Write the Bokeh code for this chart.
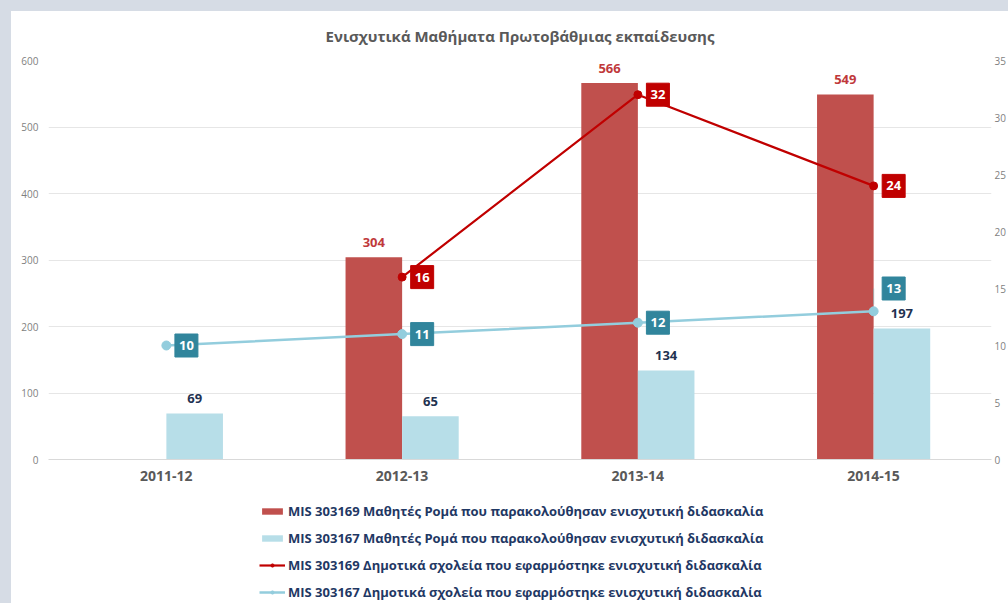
from bokeh.plotting import figure
from bokeh.models import (FactorRange, Range1d, LinearAxis, ColumnDataSource,
                          LabelSet, Legend, LegendItem, FixedTicker, Spacer)
from bokeh.layouts import column, row
from bokeh.transform import dodge
from bokeh.core.properties import value
from bokeh.embed import file_html
from bokeh.resources import INLINE

# ---------------- data ----------------
title_text = "Ενισχυτικά Μαθήματα Πρωτοβάθμιας εκπαίδευσης"
years = ["2011-12", "2012-13", "2013-14", "2014-15"]
students_303169 = [None, 304, 566, 549]
students_303167 = [69, 65, 134, 197]
schools_303169 = [None, 16, 32, 24]
schools_303167 = [10, 11, 12, 13]
series_names = [
    "MIS 303169 Μαθητές Ρομά που παρακολούθησαν ενισχυτική διδασκαλία",
    "MIS 303167 Μαθητές Ρομά που παρακολούθησαν ενισχυτική διδασκαλία",
    "MIS 303169 Δημοτικά σχολεία που εφαρμόστηκε ενισχυτική διδασκαλία",
    "MIS 303167 Δημοτικά σχολεία που εφαρμόστηκε ενισχυτική διδασκαλία",
]
left_ticks = [0, 100, 200, 300, 400, 500, 600]
right_ticks = [0, 5, 10, 15, 20, 25, 30, 35]

# ---------------- style ----------------
FONT = "Open Sans"
RED_BAR = "#c0504d"
BLUE_BAR = "#b7dee8"
RED_LINE = "#c00000"
BLUE_LINE = "#93cddd"
RED_BOX = "#c00000"
TEAL_BOX = "#31859c"
NAVY = "#1f3251"
GRAY_TXT = "#595959"
FRAME_BG = "#d6dce5"
BAR_W = 0.24
BOX_DX = 0.085


def pick(xs, vs):
    pairs = [(x, v) for x, v in zip(xs, vs) if v is not None]
    return [a for a, _ in pairs], [b for _, b in pairs]


p = figure(width=997, height=481,
           x_range=FactorRange(*years), y_range=Range1d(0, 600),
           output_backend="svg", toolbar_location=None,
           min_border_left=37, min_border_top=49, min_border_bottom=33,
           min_border_right=0)
p.extra_y_ranges = {"right": Range1d(0, 35)}

p.title.text = title_text
p.title.align = "center"
p.title.vertical_align = "top"
p.title.text_font = FONT
p.title.text_font_size = "15px"
p.title.text_font_style = "bold"
p.title.text_color = GRAY_TXT
p.title.standoff = 26

p.outline_line_color = None
p.xgrid.grid_line_color = None
p.ygrid.grid_line_color = "#e6e6e6"
p.ygrid.grid_line_width = 1

# axes
p.yaxis.ticker = FixedTicker(ticks=left_ticks)
p.yaxis.axis_line_color = None
p.yaxis.major_tick_line_color = None
p.yaxis.minor_tick_line_color = None
p.yaxis.major_tick_out = 0
p.yaxis.major_tick_in = 0
p.yaxis.major_label_text_font = FONT
p.yaxis.major_label_text_font_size = "10px"
p.yaxis.major_label_text_color = "#7f7f7f"
p.yaxis.major_label_standoff = 10

p.xaxis.axis_line_color = "#d9d9d9"
p.xaxis.major_tick_line_color = None
p.xaxis.major_tick_out = 0
p.xaxis.major_tick_in = 0
p.xaxis.major_label_text_font = FONT
p.xaxis.major_label_text_font_size = "14px"
p.xaxis.major_label_text_font_style = "bold"
p.xaxis.major_label_text_color = GRAY_TXT
p.xaxis.major_label_standoff = 11

raxis = LinearAxis(y_range_name="right", ticker=FixedTicker(ticks=right_ticks))
raxis.axis_line_color = None
raxis.major_tick_line_color = None
raxis.minor_tick_line_color = None
raxis.major_tick_out = 0
raxis.major_tick_in = 0
raxis.major_label_text_font = FONT
raxis.major_label_text_font_size = "10px"
raxis.major_label_text_color = "#7f7f7f"
raxis.major_label_standoff = 3
p.add_layout(raxis, "right")

# bars
rx, rv = pick(years, students_303169)
bx, bv = pick(years, students_303167)
red_src = ColumnDataSource(dict(x=rx, top=rv, label=[str(v) for v in rv]))
blue_src = ColumnDataSource(dict(x=bx, top=bv, label=[str(v) for v in bv]))

p.vbar(x=dodge("x", -BAR_W / 2, range=p.x_range), top="top", width=BAR_W,
       source=red_src, fill_color=RED_BAR, line_color=None)
p.vbar(x=dodge("x", BAR_W / 2, range=p.x_range), top="top", width=BAR_W,
       source=blue_src, fill_color=BLUE_BAR, line_color=None)

p.add_layout(LabelSet(x=dodge("x", -BAR_W / 2, range=p.x_range), y="top", text="label",
                      source=red_src, y_offset=15, text_align="center",
                      text_baseline="middle", text_font=value(FONT),
                      text_font_size="13px", text_font_style="bold",
                      text_color="#c0393b"))
p.add_layout(LabelSet(x=dodge("x", BAR_W / 2, range=p.x_range), y="top", text="label",
                      source=blue_src, y_offset=15, text_align="center",
                      text_baseline="middle", text_font=value(FONT),
                      text_font_size="13px", text_font_style="bold",
                      text_color=NAVY))

# lines
lx, lv = pick(years, schools_303169)
red_line_src = ColumnDataSource(dict(x=lx, y=lv))
blue_line_src = ColumnDataSource(dict(x=years, y=schools_303167))

p.line(x="x", y="y", source=red_line_src, y_range_name="right",
       line_color=RED_LINE, line_width=2.2)
p.scatter(x="x", y="y", source=red_line_src, y_range_name="right",
          size=8, fill_color=RED_LINE, line_color=RED_LINE)
p.line(x="x", y="y", source=blue_line_src, y_range_name="right",
       line_color=BLUE_LINE, line_width=2.5)
p.scatter(x="x", y="y", source=blue_line_src, y_range_name="right",
          size=9, fill_color=BLUE_LINE, line_color=BLUE_LINE)

# data-label boxes for lines
lift = [0, 0, 0, 2.0]
red_box_src = ColumnDataSource(dict(x=lx, y=lv, label=[str(v) for v in lv]))
blue_box_src = ColumnDataSource(dict(x=years,
                                     y=[v + d for v, d in zip(schools_303167, lift)],
                                     label=[str(v) for v in schools_303167]))

# small leader line for the lifted label
lead_src = ColumnDataSource(dict(x=[years[3]], y0=[schools_303167[3] + 0.6],
                                 y1=[schools_303167[3] + lift[3]]))
p.segment(x0="x", y0="y0", x1="x", y1="y1", source=lead_src, y_range_name="right",
          line_color="#a6a6a6", line_width=1)

for src, col in ((red_box_src, RED_BOX), (blue_box_src, TEAL_BOX)):
    p.scatter(x=dodge("x", BOX_DX, range=p.x_range), y="y", source=src,
              y_range_name="right", marker="square", size=23,
              fill_color=col, line_color=col)
    p.text(x=dodge("x", BOX_DX, range=p.x_range), y="y", text="label", source=src,
           y_range_name="right", text_align="center", text_baseline="middle",
           text_font=value(FONT), text_font_size="13px", text_font_style="bold",
           text_color="white")

# ---------------- legend (separate strip below the chart) ----------------
lg = figure(width=997, height=111, x_range=Range1d(0, 1), y_range=Range1d(0, 1),
            x_axis_type=None, y_axis_type=None, output_backend="svg",
            toolbar_location=None, min_border=0)
lg.outline_line_color = None
lg.background_fill_color = "white"
lg.border_fill_color = "white"
# hidden one-point swatch renderers (only used to draw legend glyphs)
swatch = ColumnDataSource(dict(x=[0], y=[0], top=[0]))
d1 = lg.vbar(x="x", top="top", width=1, source=swatch, fill_color=RED_BAR,
             line_color=None, visible=False)
d2 = lg.vbar(x="x", top="top", width=1, source=swatch, fill_color=BLUE_BAR,
             line_color=None, visible=False)
d3 = lg.line(x="x", y="y", source=swatch, line_color=RED_LINE, line_width=2.2,
             visible=False)
d4 = lg.scatter(x="x", y="y", source=swatch, size=8, fill_color=RED_LINE,
                line_color=RED_LINE, visible=False)
d5 = lg.line(x="x", y="y", source=swatch, line_color=BLUE_LINE, line_width=2.5,
             visible=False)
d6 = lg.scatter(x="x", y="y", source=swatch, size=9, fill_color=BLUE_LINE,
                line_color=BLUE_LINE, visible=False)

legend = Legend(items=[
    LegendItem(label=series_names[0], renderers=[d1]),
    LegendItem(label=series_names[1], renderers=[d2]),
    LegendItem(label=series_names[2], renderers=[d3, d4]),
    LegendItem(label=series_names[3], renderers=[d5, d6]),
], location=(211, 2), orientation="vertical")
legend.border_line_color = None
legend.background_fill_alpha = 0
legend.inactive_fill_alpha = 0
legend.label_text_font = FONT
legend.label_text_font_size = "13px"
legend.label_text_font_style = "bold"
legend.label_text_color = "#1f3864"
legend.glyph_width = 26
legend.glyph_height = 8
legend.label_height = 14
legend.label_standoff = 3
legend.spacing = 9
legend.padding = 0
legend.margin = 0
lg.add_layout(legend, "center")

chart = column(p, lg, styles={"background-color": "white"})
root = column(Spacer(width=1008, height=11),
              row(Spacer(width=11, height=592), chart),
              styles={"background-color": FRAME_BG})

open("out.html", "w").write(file_html(root, INLINE))
